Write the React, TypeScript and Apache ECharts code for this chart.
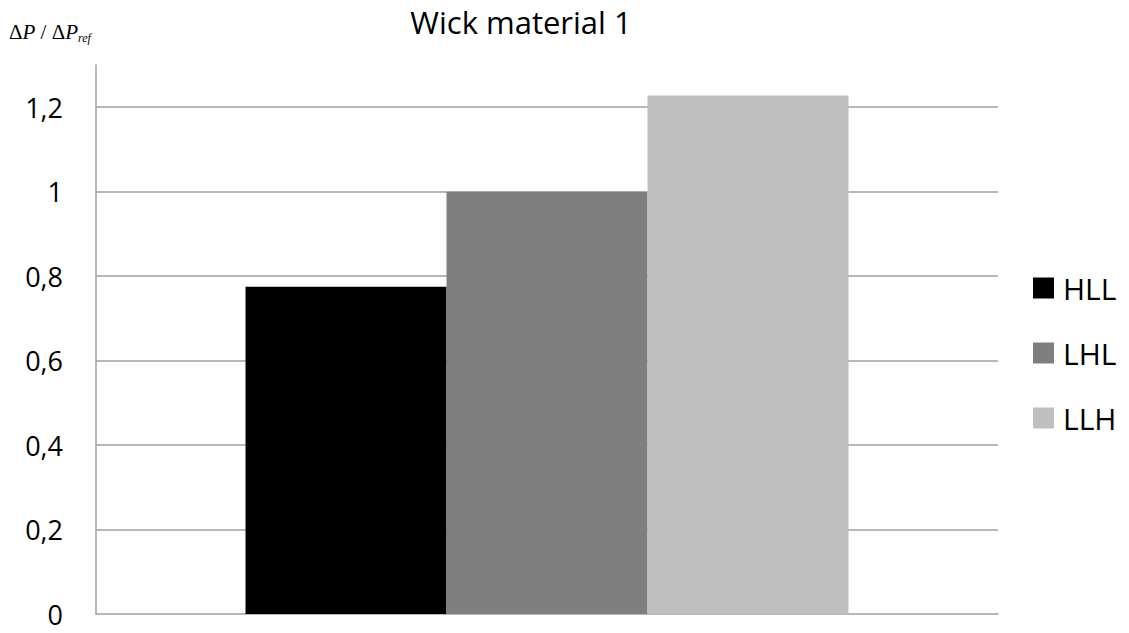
import React, { useEffect, useRef } from "react";
import * as echarts from "echarts";

const categories = ["Wick material 1"];
const seriesNames = ["HLL", "LHL", "LLH"];
const seriesValues = [[0.775], [1.0], [1.228]];
const seriesColors = ["#000000", "#7f7f7f", "#bfbfbf"];

const FONT = "'Open Sans', Lato, sans-serif";
const SERIF = "'Liberation Serif', 'DejaVu Serif', serif";

export default function App() {
  const ref = useRef<HTMLDivElement>(null);

  useEffect(() => {
    document.body.style.margin = "0";
    document.body.style.overflow = "hidden";
    if (!ref.current) return;
    const chart = echarts.init(ref.current, undefined, { renderer: "svg" });
    chart.setOption({
      animation: false,
      backgroundColor: "#ffffff",
      title: {
        text: "Wick material 1",
        left: 521,
        top: 6,
        padding: 0,
        textAlign: "center",
        textStyle: { fontFamily: FONT, fontSize: 31, fontWeight: "normal", color: "#000" },
      },
      graphic: [
        {
          type: "text",
          left: 9,
          top: 21,
          style: {
            text: "{d|Δ}{p|P}{s| / }{d|Δ}{p|P}{sub|ref}",
            rich: {
              d: { fontFamily: SERIF, fontSize: 21, fill: "#000" },
              p: { fontFamily: SERIF, fontStyle: "italic", fontSize: 21, fill: "#000" },
              s: { fontFamily: SERIF, fontSize: 21, fill: "#000" },
              sub: {
                fontFamily: SERIF,
                fontStyle: "italic",
                fontSize: 12,
                fill: "#000",
                verticalAlign: "bottom",
                padding: [12, 0, 0, 0],
              },
            },
          },
        },
      ],
      legend: {
        orient: "vertical",
        left: 1033,
        top: 273,
        padding: 0,
        itemWidth: 21,
        itemHeight: 21,
        itemGap: 35,
        icon: "rect",
        textStyle: {
          fontFamily: FONT,
          fontSize: 30,
          color: "#000",
          lineHeight: 21,
          padding: [0, 0, 0, 4],
        },
        data: seriesNames,
      },
      grid: { left: 96, right: 131, top: 65, bottom: 19, containLabel: false },
      xAxis: {
        type: "category",
        data: categories,
        axisLine: { lineStyle: { color: "#a0a0a0", width: 1.5 } },
        axisTick: { show: false },
        axisLabel: { show: false },
      },
      yAxis: {
        type: "value",
        min: 0,
        max: 1.3,
        interval: 0.2,
        axisLine: { show: true, lineStyle: { color: "#a0a0a0", width: 1.5 } },
        axisTick: { show: false },
        axisLabel: {
          showMaxLabel: false,
          margin: 33,
          fontFamily: FONT,
          fontSize: 27,
          color: "#000",
          formatter: (v: number) => String(Math.round(v * 10) / 10).replace(".", ","),
        },
        splitLine: {
          show: true,
          showMinLine: false,
          showMaxLine: false,
          lineStyle: { color: "#a0a0a0", width: 1.5 },
        },
      },
      series: seriesNames.map((name, i) => ({
        name,
        type: "bar",
        data: seriesValues[i],
        barWidth: 201,
        barGap: "0%",
        itemStyle: { color: seriesColors[i] },
      })),
    });
    return () => chart.dispose();
  }, []);

  return <div ref={ref} style={{ width: 1129, height: 633 }} />;
}
